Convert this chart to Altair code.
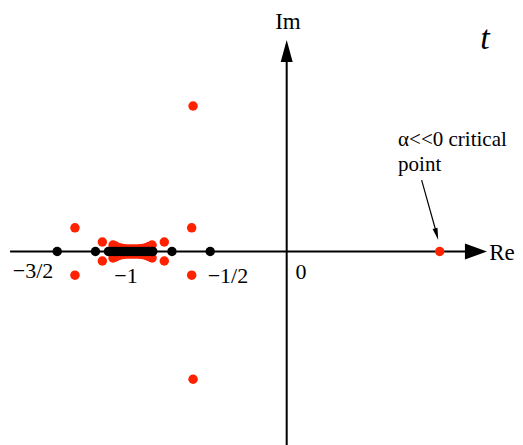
import altair as alt
import pandas as pd

# ---- data (complex-plane coordinates) ----
# isolated red points
red_re = [-1.384, -1.384, -0.621, -0.621, -0.612, -0.612, 1.0,
          -1.205, -1.205, -0.80, -0.80]
red_im = [0.155, -0.155, 0.155, -0.155, 0.951, -0.835, 0.0,
          0.062, -0.062, 0.062, -0.062]

# dense red band around -1 (conjugate pairs)
band_re = [-1.135, -1.12, -1.10, -1.08, -1.06, -1.04, -1.02, -1.00,
           -0.98, -0.96, -0.94, -0.92, -0.90, -0.88]
band_im = [0.042, 0.036, 0.027, 0.021, 0.018, 0.017, 0.017, 0.017,
           0.017, 0.018, 0.020, 0.025, 0.033, 0.042]

# black points on the real axis
black_re = [-1.5, -1.25, -0.75, -0.5,
            -1.165, -1.145, -1.125, -1.105, -1.085, -1.065, -1.045, -1.025,
            -1.005, -0.985, -0.965, -0.945, -0.925, -0.905, -0.885, -0.875]

# tick-like labels on the real axis
lab_text = ["\u22123/2", "\u22121", "\u22121/2", "0"]
lab_re = [-1.658, -1.050, -0.384, 0.093]
lab_im = [-0.127, -0.160, -0.160, -0.134]

note_lines = ["\u03b1<<0 critical", "point"]
note_re = [0.728, 0.728]
note_im = [0.729, 0.565]

XDOM = [-1.8216, 1.4922]
YDOM = [-1.2647, 1.5915]
RED = "#ff2200"
FONT = "Liberation Serif"

xs = alt.Scale(domain=XDOM, nice=False, zero=False)
ys = alt.Scale(domain=YDOM, nice=False, zero=False)


def X(f="re"):
    return alt.X(f"{f}:Q", scale=xs, axis=None)


def Y(f="im"):
    return alt.Y(f"{f}:Q", scale=ys, axis=None)


# axes lines
hline = pd.DataFrame({"re": [-1.808], "re2": [1.172], "im": [0.0]})
vline = pd.DataFrame({"re": [0.0], "im": [YDOM[0]], "im2": [1.2386]})

h_rule = alt.Chart(hline).mark_rule(color="black", strokeWidth=2).encode(
    x=X(), x2="re2:Q", y=Y())
v_rule = alt.Chart(vline).mark_rule(color="black", strokeWidth=2).encode(
    x=X(), y=Y(), y2="im2:Q")

arrow_right = alt.Chart(pd.DataFrame({"re": [1.237], "im": [0.0]})).mark_point(
    shape="M -1 -0.73 L 1 0 L -1 0.73 Z", filled=True, size=484,
    color="black", opacity=1, strokeWidth=0).encode(x=X(), y=Y())
arrow_up = alt.Chart(pd.DataFrame({"re": [0.0], "im": [1.3105]})).mark_point(
    shape="M -0.545 1 L 0 -1 L 0.545 1 Z", filled=True, size=484,
    color="black", opacity=1, strokeWidth=0).encode(x=X(), y=Y())

# points
red_df = pd.DataFrame({"re": red_re, "im": red_im})
band_df = pd.DataFrame({"re": band_re + band_re,
                        "im": band_im + [-v for v in band_im]})
black_df = pd.DataFrame({"re": black_re, "im": [0.0] * len(black_re)})

pt = dict(filled=True, size=90, opacity=1, strokeWidth=0)
red_pts = alt.Chart(red_df).mark_point(color=RED, **pt).encode(x=X(), y=Y())
band_pts = alt.Chart(band_df).mark_point(color=RED, **pt).encode(x=X(), y=Y())
black_pts = alt.Chart(black_df).mark_point(color="black", **pt).encode(x=X(), y=Y())

# labels
lab_df = pd.DataFrame({"t": lab_text, "re": lab_re, "im": lab_im})
labels = alt.Chart(lab_df).mark_text(
    font=FONT, fontSize=22, color="black", align="center", baseline="middle"
).encode(x=X(), y=Y(), text="t:N")

re_label = alt.Chart(pd.DataFrame({"t": ["Re"], "re": [1.491], "im": [-0.057]})).mark_text(
    font=FONT, fontSize=23, color="black", align="right", baseline="alphabetic"
).encode(x=X(), y=Y(), text="t:N")

im_label = alt.Chart(pd.DataFrame({"t": ["Im"], "re": [0.008], "im": [1.451]})).mark_text(
    font=FONT, fontSize=23, color="black", align="center", baseline="alphabetic"
).encode(x=X(), y=Y(), text="t:N")

t_label = alt.Chart(pd.DataFrame({"t": ["t"], "re": [1.296], "im": [1.389]})).mark_text(
    font=FONT, fontSize=34, fontStyle="italic", color="black",
    align="center", baseline="middle").encode(x=X(), y=Y(), text="t:N")

note_df = pd.DataFrame({"t": note_lines, "re": note_re, "im": note_im})
note = alt.Chart(note_df).mark_text(
    font=FONT, fontSize=21, color="black", align="left", baseline="middle"
).encode(x=X(), y=Y(), text="t:N")

# annotation arrow
ann_line = alt.Chart(pd.DataFrame({"re": [0.882], "im": [0.467],
                                   "re2": [0.9725], "im2": [0.144]})).mark_rule(
    color="black", strokeWidth=1.2).encode(x=X(), y=Y(), x2="re2:Q", y2="im2:Q")
ann_head = alt.Chart(pd.DataFrame({"re": [0.980], "im": [0.113]})).mark_point(
    shape="M -0.42 -1 L 0 1 L 0.42 -1 Z", filled=True, size=144, angle=345,
    color="black", opacity=1, strokeWidth=0).encode(x=X(), y=Y())

chart = alt.layer(
    h_rule, v_rule, arrow_right, arrow_up,
    band_pts, red_pts, black_pts,
    labels, re_label, im_label, t_label, note, ann_line, ann_head
).properties(
    width=507, height=437,
    autosize=alt.AutoSizeParams(type="none"),
    padding=0,
    background="white",
).configure_view(stroke=None)

chart.save("out.html", embed_options={"renderer": "svg", "actions": False})
